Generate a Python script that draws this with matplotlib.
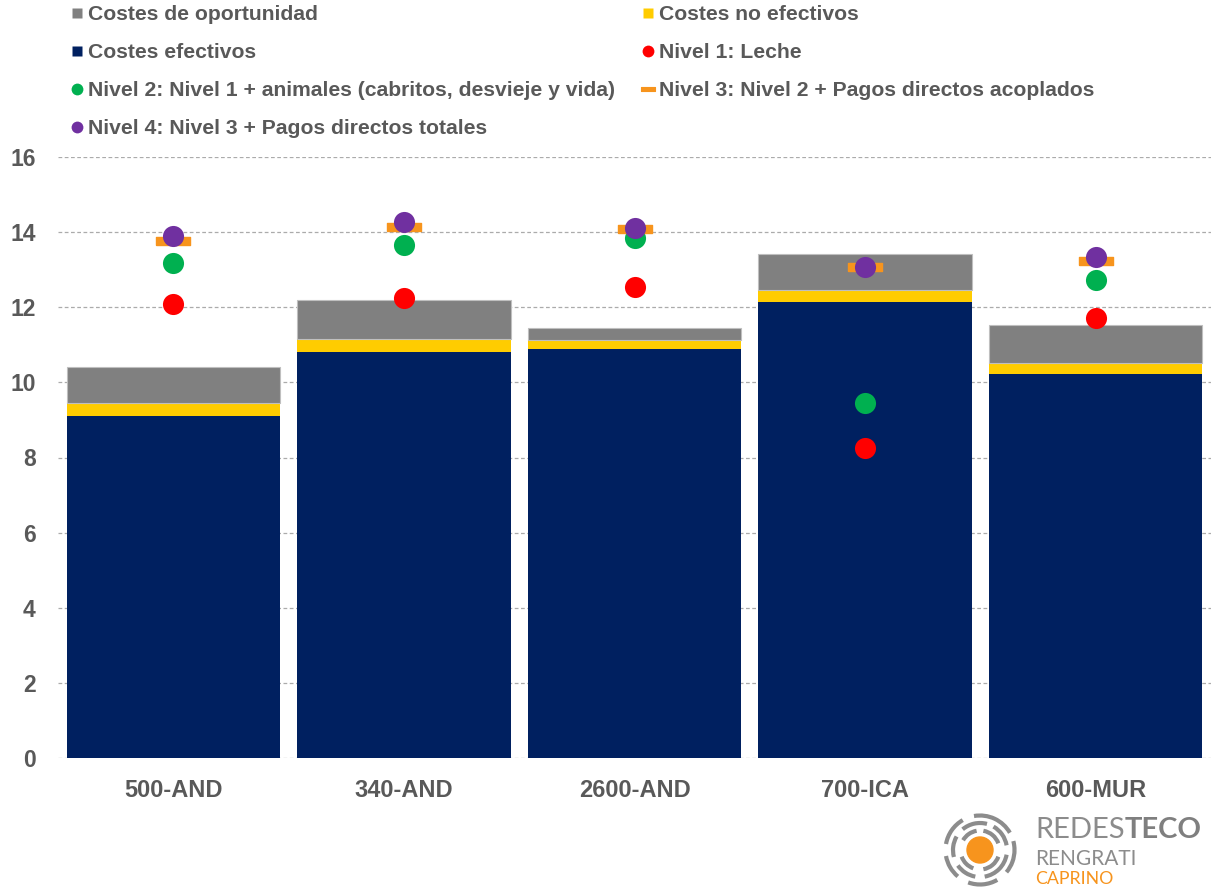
import matplotlib
matplotlib.use("Agg")
import matplotlib.pyplot as plt
from matplotlib.lines import Line2D
from matplotlib.patches import Circle, Arc
import numpy as np

plt.rcParams['font.family'] = ['Liberation Sans', 'DejaVu Sans']

categories = ["500-AND", "340-AND", "2600-AND", "700-ICA", "600-MUR"]
costes_efectivos = [9.10, 10.80, 10.90, 12.14, 10.23]
costes_no_efectivos = [0.35, 0.35, 0.22, 0.32, 0.29]
costes_oportunidad = [0.96, 1.03, 0.32, 0.95, 1.02]
nivel1 = [12.09, 12.24, 12.55, 8.25, 11.71]
nivel2 = [13.19, 13.66, 13.84, 9.45, 12.73]
nivel3 = [13.77, 14.13, 14.08, 13.06, 13.24]
nivel4 = [13.90, 14.28, 14.10, 13.08, 13.33]
yticks = [0, 2, 4, 6, 8, 10, 12, 14, 16]

C_NAVY = "#002060"
C_YEL = "#FFCC00"
C_GRAY = "#808080"
C_RED = "#FF0000"
C_GREEN = "#00B050"
C_ORANGE = "#F7941D"
C_PURPLE = "#7030A0"
TXT = "#595959"

W, H = 1212, 894
fig = plt.figure(figsize=(W / 100, H / 100), dpi=100)
ax = fig.add_axes([58 / W, (H - 758) / H, (1211 - 58) / W, (758 - 157) / H])

x = np.arange(len(categories))
bw = 0.925
ce = np.array(costes_efectivos)
cne = np.array(costes_no_efectivos)
co = np.array(costes_oportunidad)
b1 = ax.bar(x, ce, bw, color=C_NAVY, label="Costes efectivos", zorder=2)
b2 = ax.bar(x, cne, bw, bottom=ce, color=C_YEL, label="Costes no efectivos", zorder=2)
b3 = ax.bar(x, co, bw, bottom=ce + cne, color=C_GRAY, label="Costes de oportunidad", zorder=2,
            edgecolor="#BFBFBF", linewidth=0.8)

dash = [(-1, -0.26), (1, -0.26), (1, 0.26), (-1, 0.26), (-1, -0.26)]
ms = 15.2
ax.plot(x, nivel1, 'o', ms=ms, color=C_RED, mec='none', zorder=4)
ax.plot(x, nivel2, 'o', ms=ms, color=C_GREEN, mec='none', zorder=4)
ax.plot(x, nivel3, linestyle='none', marker=dash, ms=24.5, color=C_ORANGE, mec=C_ORANGE,
        mew=1.0, zorder=4)
ax.plot(x, nivel4, 'o', ms=ms, color=C_PURPLE, mec='none', zorder=5)

ax.set_xlim(-0.5, 4.5)
ax.set_ylim(0, 16)
ax.set_yticks(yticks)
ax.set_yticklabels([str(v) for v in yticks])
ax.set_xticks(x)
ax.set_xticklabels(categories)
for s in ax.spines.values():
    s.set_visible(False)
ax.tick_params(axis='both', length=0, colors=TXT, labelsize=16.5)
ax.tick_params(axis='y', pad=16)
ax.tick_params(axis='x', pad=15, labelsize=17)
for lab in ax.get_xticklabels() + ax.get_yticklabels():
    lab.set_fontweight('bold')
ax.yaxis.grid(True, linestyle=(0, (3, 2)), color="#ABABAB", linewidth=0.9, zorder=0)
ax.set_axisbelow(True)

# legend with proxies, order matching reference (row-major)
def sq(c):
    return Line2D([], [], linestyle='none', marker='s', ms=7.2, color=c, mec='none')

def dot(c):
    return Line2D([], [], linestyle='none', marker='o', ms=8.5, color=c, mec='none')

h_op = sq(C_GRAY)
h_ne = sq(C_YEL)
h_ef = sq(C_NAVY)
h_n1 = dot(C_RED)
h_n2 = dot(C_GREEN)
h_n3 = Line2D([], [], linestyle='none', marker=dash, ms=10.5, color=C_ORANGE, mec=C_ORANGE, mew=0.8)
h_n4 = dot(C_PURPLE)
handles = [h_op, h_ef, h_n2, h_n4, h_ne, h_n1, h_n3]
labels = ["Costes de oportunidad", "Costes efectivos",
          "Nivel 2: Nivel 1 + animales (cabritos, desvieje y vida)",
          "Nivel 4: Nivel 3 + Pagos directos totales",
          "Costes no efectivos", "Nivel 1: Leche",
          "Nivel 3: Nivel 2 + Pagos directos acoplados"]
leg = fig.legend(handles, labels, ncol=2, loc='upper left',
                 bbox_to_anchor=(72 / W, 1 - 5.5 / H), frameon=False,
                 prop={'weight': 'bold', 'size': 15.2}, labelcolor=TXT,
                 handlelength=0.52, handletextpad=0.24, columnspacing=1.3,
                 labelspacing=0.895, borderpad=0, borderaxespad=0)

# logo
lax = fig.add_axes([937 / W, (H - 893) / H, 86 / W, 86 / H])
lax.set_xlim(-43, 43)
lax.set_ylim(-43, 43)
lax.set_aspect('equal')
lax.axis('off')
lax.add_patch(Circle((0, 0), 13, color=C_ORANGE))
for r, segs in [(19.5, [(20, 80), (100, 150), (200, 250), (280, 340)]),
                (27, [(10, 60), (75, 130), (150, 195), (215, 260), (280, 350)]),
                (34.5, [(30, 100), (120, 170), (190, 230), (250, 300), (320, 360), (0, 15)])]:
    for a0, a1 in segs:
        lax.add_patch(Arc((0, 0), 2 * r, 2 * r, theta1=a0, theta2=a1, color="#8C8C8C", lw=3))

logo_fam = ['Lato', 'DejaVu Sans']
t1 = fig.text(1035 / W, 1 - 838 / H, "REDES", fontsize=21, color="#8C8C8C", family=logo_fam,
              fontweight='normal', va='baseline', ha='left')
fig.canvas.draw()
r = fig.canvas.get_renderer()
bb = t1.get_window_extent(r)
fig.text(bb.x1 / W, 1 - 838 / H, "TECO", fontsize=21, color="#7F7F7F", family=logo_fam,
         fontweight='bold', va='baseline', ha='left')
fig.text(1035 / W, 1 - 865 / H, "RENGRATI", fontsize=15, color="#8C8C8C", family=logo_fam,
         va='baseline', ha='left')
fig.text(1035 / W, 1 - 884 / H, "CAPRINO", fontsize=12.8, color=C_ORANGE, family=logo_fam,
         va='baseline', ha='left')

fig.savefig("out.png", dpi=100, facecolor='white')
